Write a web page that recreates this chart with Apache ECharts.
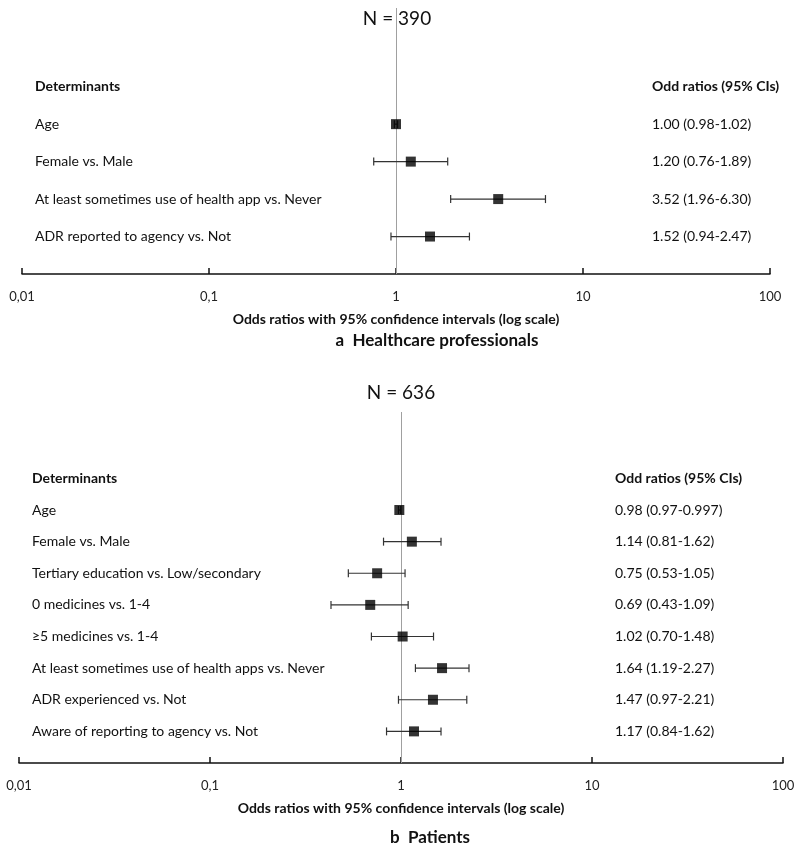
<!DOCTYPE html>
<html>
<head>
<meta charset="utf-8">
<script src="https://cdn.jsdelivr.net/npm/echarts@6/dist/echarts.min.js"></script>
<style>html,body{margin:0;padding:0;background:#fff}#c{width:798px;height:852px}</style>
</head>
<body>
<div id="c"></div>
<script>
// ---- Panel a: Healthcare professionals ----
const catsA = ['Age', 'Female vs. Male', 'At least sometimes use of health app vs. Never', 'ADR reported to agency vs. Not'];
const orA = [1.00, 1.20, 3.52, 1.52];
const loA = [0.98, 0.76, 1.96, 0.94];
const hiA = [1.02, 1.89, 6.30, 2.47];
const ciTextA = ['1.00 (0.98-1.02)', '1.20 (0.76-1.89)', '3.52 (1.96-6.30)', '1.52 (0.94-2.47)'];

// ---- Panel b: Patients ----
const catsB = ['Age', 'Female vs. Male', 'Tertiary education vs. Low/secondary', '0 medicines vs. 1-4', '\u22655 medicines vs. 1-4', 'At least sometimes use of health apps vs. Never', 'ADR experienced vs. Not', 'Aware of reporting to agency vs. Not'];
const orB = [0.98, 1.14, 0.75, 0.69, 1.02, 1.64, 1.47, 1.17];
const loB = [0.97, 0.81, 0.53, 0.43, 0.70, 1.19, 0.97, 0.84];
const hiB = [0.997, 1.62, 1.05, 1.09, 1.48, 2.27, 2.21, 1.62];
const ciTextB = ['0.98 (0.97-0.997)', '1.14 (0.81-1.62)', '0.75 (0.53-1.05)', '0.69 (0.43-1.09)', '1.02 (0.70-1.48)', '1.64 (1.19-2.27)', '1.47 (0.97-2.21)', '1.17 (0.84-1.62)'];

const tickLabels = ['0,01', '0,1', '1', '10', '100'];
const headerLeft = 'Determinants';
const headerRight = 'Odd ratios (95% CIs)';
const nA = 'N = 390', nB = 'N = 636';
const capA = 'a  Healthcare professionals', capB = 'b  Patients';
const axisTitle = 'Odds ratios with 95% confidence intervals (log scale)';

const FONT = 'Lato, "Open Sans", sans-serif';
const chart = echarts.init(document.getElementById('c'));

function xAxisCfg(gi) {
  return {
    type: 'log', logBase: 10, min: 0.01, max: 100, gridIndex: gi,
    axisLine: { show: true, onZero: false, lineStyle: { color: '#111', width: 1.5 } },
    axisTick: { show: true, inside: true, length: 6, lineStyle: { color: '#111', width: 1.5 } },
    splitLine: { show: false },
    axisLabel: {
      margin: 16, color: '#222', fontFamily: FONT, fontSize: 13,
      formatter: function (v) {
        const idx = Math.round(Math.log10(v)) + 2;
        return tickLabels[idx] !== undefined ? tickLabels[idx] : '';
      }
    },
    name: axisTitle, nameLocation: 'middle', nameGap: 38,
    nameTextStyle: { fontFamily: FONT, fontSize: 14, fontWeight: 'bold', color: '#111' }
  };
}
function yAxisCfg(gi, max) {
  return { type: 'value', gridIndex: gi, min: -2.1, max: max, inverse: true, show: false };
}

function errData(lo, hi) { return lo.map((l, i) => [i + 1, l, hi[i]]); }
function ptData(or) { return or.map((v, i) => [v, i + 1]); }

function errSeries(gi, lo, hi) {
  return {
    type: 'custom', xAxisIndex: gi, yAxisIndex: gi,
    data: errData(lo, hi),
    encode: { x: [1, 2], y: 0 },
    renderItem: function (params, api) {
      const y = api.value(0);
      const p1 = api.coord([api.value(1), y]);
      const p2 = api.coord([api.value(2), y]);
      const h = 4;
      const st = { stroke: '#333', lineWidth: 1.2 };
      return {
        type: 'group', children: [
          { type: 'line', shape: { x1: p1[0], y1: p1[1], x2: p2[0], y2: p2[1] }, style: st },
          { type: 'line', shape: { x1: p1[0], y1: p1[1] - h, x2: p1[0], y2: p1[1] + h }, style: st },
          { type: 'line', shape: { x1: p2[0], y1: p2[1] - h, x2: p2[0], y2: p2[1] + h }, style: st }
        ]
      };
    },
    z: 3
  };
}
function ptSeries(gi, or) {
  return {
    type: 'scatter', xAxisIndex: gi, yAxisIndex: gi,
    data: ptData(or), symbol: 'rect', symbolSize: 10,
    itemStyle: { color: '#000' }, z: 5,
    markLine: {
      silent: true, symbol: 'none', label: { show: false }, z: 1,
      lineStyle: { color: '#a0a0a0', width: 1, type: 'solid' },
      data: [{ xAxis: 1 }]
    }
  };
}
function textSeries(gi, cats, ci, leftX, rightX) {
  const rows = [[0, headerLeft, headerRight, 1]];
  cats.forEach((c, i) => rows.push([i + 1, c, ci[i], 0]));
  return {
    type: 'custom', xAxisIndex: gi, yAxisIndex: gi,
    data: rows.map(r => [r[0]]),
    renderItem: function (params, api) {
      const r = rows[params.dataIndex];
      const y = api.coord([1, r[0]])[1];
      const font = (r[3] ? 'bold ' : '') + '14px ' + FONT;
      return {
        type: 'group', children: [
          { type: 'text', style: { text: r[1], x: leftX, y: y, verticalAlign: 'middle', align: 'left', font: font, fill: '#111' } },
          { type: 'text', style: { text: r[2], x: rightX, y: y, verticalAlign: 'middle', align: 'left', font: font, fill: '#111' } }
        ]
      };
    },
    silent: true, z: 2
  };
}

chart.setOption({
  backgroundColor: '#fff',
  animation: false,
  grid: [
    { left: 22, right: 28, top: 8, height: 266 },
    { left: 19, right: 15, top: 412, height: 351 }
  ],
  xAxis: [xAxisCfg(0), xAxisCfg(1)],
  yAxis: [yAxisCfg(0, 5), yAxisCfg(1, 9)],
  graphic: [
    { type: 'text', x: 397, y: 19, style: { text: nA, align: 'center', verticalAlign: 'middle', font: '19px ' + FONT, fill: '#111' } },
    { type: 'text', x: 437, y: 341, style: { text: capA, align: 'center', verticalAlign: 'middle', font: 'bold 17px ' + FONT, fill: '#111' } },
    { type: 'text', x: 401, y: 393, style: { text: nB, align: 'center', verticalAlign: 'middle', font: '19px ' + FONT, fill: '#111' } },
    { type: 'text', x: 430, y: 838, style: { text: capB, align: 'center', verticalAlign: 'middle', font: 'bold 17px ' + FONT, fill: '#111' } }
  ],
  series: [
    errSeries(0, loA, hiA), ptSeries(0, orA), textSeries(0, catsA, ciTextA, 35, 652),
    errSeries(1, loB, hiB), ptSeries(1, orB), textSeries(1, catsB, ciTextB, 32, 615)
  ]
});
</script>
</body>
</html>
